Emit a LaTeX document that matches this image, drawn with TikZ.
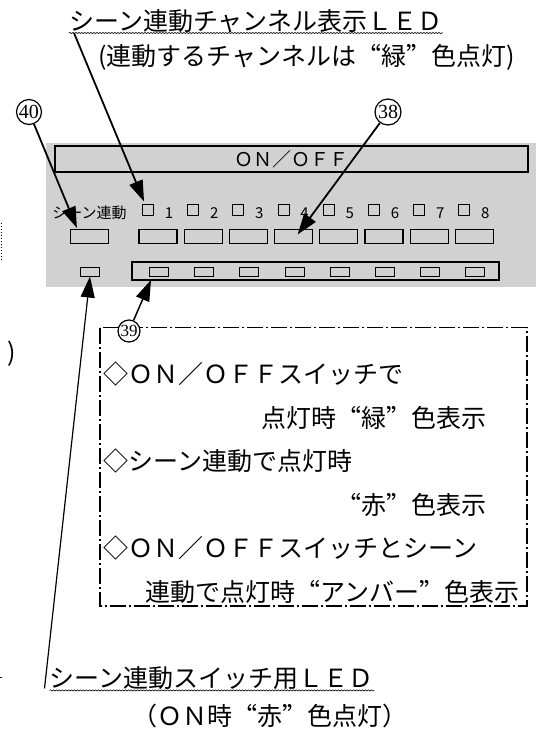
\documentclass[tikz,border=0pt]{standalone}
\usepackage{fontspec}
\newfontfamily\jp{Noto Sans CJK JP}
\newfontfamily\jpfw[CharacterWidth=Full]{Noto Sans CJK JP}
\newfontfamily\numf{Liberation Serif}
\usetikzlibrary{arrows.meta,decorations.pathmorphing,positioning}
\tikzset{every picture/.style={line width=0.75pt}}
\newcommand{\kagi}[1]{{\jpfw “}#1{\jpfw ”}}

\begin{document}
\begin{tikzpicture}[x=1pt,y=-1pt,
    note/.style={font=\jp\fontsize{25}{25}\selectfont, inner sep=0pt},
    sqbox/.style={draw, line width=0.9pt, minimum size=11pt, inner sep=0pt},
    btnbox/.style={draw, line width=1.2pt, minimum width=38pt, minimum height=14pt, inner sep=0pt},
    ledbox/.style={draw, line width=1pt, minimum width=19pt, minimum height=9pt, inner sep=0pt},
    numcirc/.style={circle, draw, line width=1.2pt, fill=white, minimum size=25pt, inner sep=0pt,
        text height=13pt, text depth=0pt, font=\numf\fontsize{20}{20}\selectfont},
    leader/.style={line width=1.8pt, -{Triangle[length=21pt,width=14pt]}},
    wavy/.style={decorate, decoration={snake, amplitude=0.6pt, segment length=3pt}, line width=0.6pt},
    dashdot/.style={line width=1.3pt, dash pattern=on 16pt off 3pt on 2pt off 3pt}]
    \useasboundingbox (0,0) rectangle (536,732);

    % 左端の切れ端
    \draw[dotted, line width=1pt] (1,223) -- (1,261);
    \node[note] (frag) at (12,354) {)};
    \draw (0,677) -- (2,677);

    % パネル
    \fill[black!18] (46,143) rectangle (536,287);
    \node[draw, line width=1.2pt, minimum width=473pt, minimum height=26pt, inner sep=0pt,
          font=\jp\fontsize{19}{19}\selectfont] (bar) at (291.5,159) {ＯＮ／ＯＦＦ};
    \node[font=\jp\fontsize{15}{15}\selectfont, inner sep=0pt] (lblS) at (89.5,213) {シーン連動};
    \node[btnbox] (btnS) at (89.5,236.5) {};
    \node[ledbox] (ledS) at (90,271.5) {};
    \node[draw, line width=1.2pt, minimum width=367pt, minimum height=18pt, inner sep=0pt] (ledframe) at (315.5,271) {};

    % チャンネル 1〜8
    \foreach \i in {1,...,8} {
        \pgfmathsetmacro{\xs}{148+(\i-1)*45.2}
        \node[sqbox] (sq\i) at (\xs,209.5) {};
        \node[font=\jp\fontsize{15}{15}\selectfont, inner sep=0pt] (num\i) at (\xs+21,213) {\i};
        \node[btnbox] (btn\i) at (\xs+10,236.5) {};
        \node[ledbox] (led\i) at (\xs+11,271.5) {};
    }

    % 上の見出し
    \node[note, anchor=west] (title) at (69,21) {シーン連動チャンネル表示ＬＥＤ};
    \draw[wavy] (title.south west) -- (title.south east);
    \node[note, anchor=west] (sub) at (98,57) {(連動するチャンネルは\kagi{緑}色点灯)};

    % 説明の枠
    \draw[dashdot] (100,327.5) rectangle (527,606);
    \node[note, anchor=west] (l1) at (103,374) {◇ＯＮ／ＯＦＦスイッチで};
    \node[note, anchor=east] (l2) at (487,417.5) {点灯時\kagi{緑}色表示};
    \node[note, anchor=west] (l3) at (103,461) {◇シーン連動で点灯時};
    \node[note, anchor=east] (l4) at (487,504.5) {\kagi{赤}色表示};
    \node[note, anchor=west] (l5) at (103,548) {◇ＯＮ／ＯＦＦスイッチとシーン};
    \node[note, anchor=east] (l6) at (520,591.5) {連動で点灯時\kagi{アンバー}色表示};

    % 下の見出し
    \node[note, anchor=west] (bot) at (49.5,678.5) {シーン連動スイッチ用ＬＥＤ};
    \draw[wavy] (bot.south west) -- (bot.south east);
    \node[note, anchor=west] (botsub) at (132,716) {（ＯＮ時\kagi{赤}色点灯）};

    % 番号
    \node[numcirc] (c40) at (29,112) {40};
    \node[numcirc, minimum size=26pt] (c38) at (388,112) {38};
    \node[numcirc, minimum size=22pt, text height=11pt, font=\numf\fontsize{17}{17}\selectfont] (c39) at (129,331) {39};
    \coordinate (tip39) at (151,280);

    % 引出線
    \draw[leader] ([xshift=5pt]title.south west) -- ([xshift=2pt,yshift=2pt]sq1.north west);
    \draw[leader] (c40) -- ([xshift=7pt,yshift=1pt]btnS.north west);
    \draw[leader] (c38) -- ([xshift=4pt,yshift=2pt]btn4.center);
    \draw[leader, line width=1.5pt] (c39) -- (tip39);
    \draw[leader, line width=1.2pt] ([xshift=-5pt,yshift=2pt]bot.south west) -- (ledS.south);
\end{tikzpicture}
\end{document}
